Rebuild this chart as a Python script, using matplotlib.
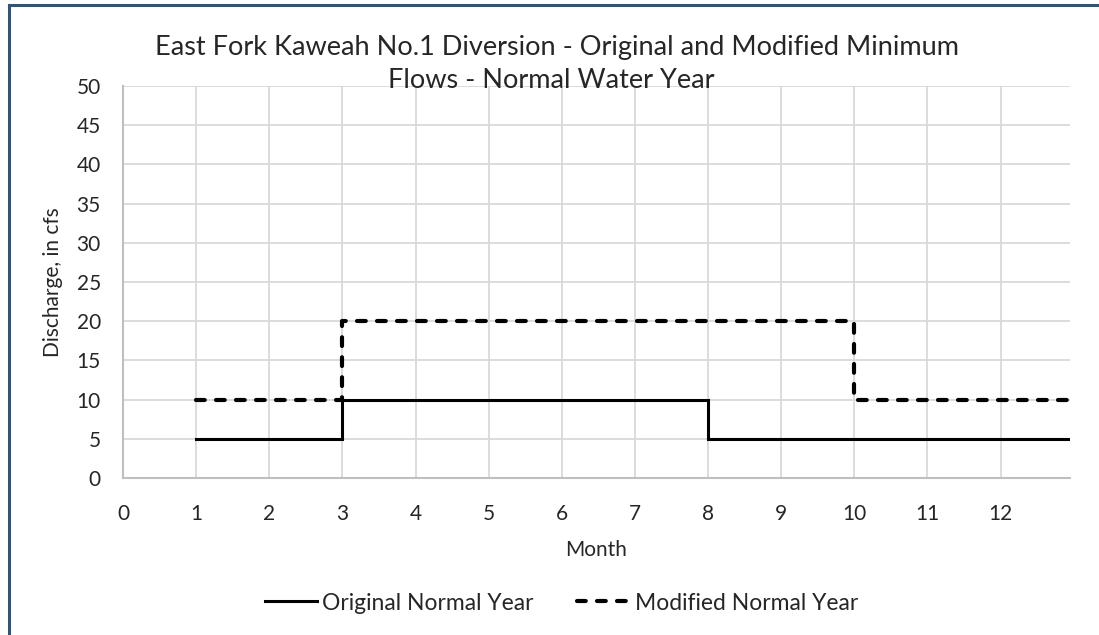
import matplotlib
matplotlib.use("Agg")
import matplotlib.pyplot as plt
from matplotlib.lines import Line2D

plt.rcParams['font.family'] = ['Lato', 'DejaVu Sans']

# step data (month, cfs)
months_orig = [1, 3, 3, 8, 8, 12.95]
flow_orig = [5, 5, 10, 10, 5, 5]
months_mod = [1, 3, 3, 10, 10, 12.95]
flow_mod = [10, 10, 20, 20, 10, 10]

x_ticks = list(range(0, 13))
y_ticks = list(range(0, 55, 5))

txt = '#262626'

fig = plt.figure(figsize=(10.99, 6.35), dpi=100)
ax = fig.add_axes([123/1099, 1-478/635, (1070-123)/1099, (478-86)/635])

ax.plot(months_orig, flow_orig, color='black', lw=2.2, solid_joinstyle='miter',
        label='Original Normal Year', zorder=3)
ax.plot(months_mod, flow_mod, color='black', lw=3.0, dashes=(2.1, 2.7),
        dash_capstyle='round', label='Modified Normal Year', zorder=3)

ax.set_xlim(0, 12.95)
ax.set_ylim(0, 50)
ax.set_xticks(x_ticks)
ax.set_yticks(y_ticks)
ax.grid(True, color='#d9d9d9', lw=1.3, zorder=0)
ax.set_axisbelow(True)
for s in ['top', 'right']:
    ax.spines[s].set_visible(False)
for s in ['left', 'bottom']:
    ax.spines[s].set_color('#bfbfbf')
    ax.spines[s].set_linewidth(1.5)
ax.tick_params(length=0, labelsize=15, colors=txt)
ax.tick_params(axis='x', pad=19)
ax.tick_params(axis='y', pad=16)

ax.set_xlabel('Month', fontsize=15, color=txt, labelpad=11)
ax.set_ylabel('Discharge, in cfs', fontsize=15, color=txt, labelpad=10)

fig.text(0.507, 1-47/635, 'East Fork Kaweah No.1 Diversion - Original and Modified Minimum',
         ha='center', va='center', fontsize=19.5, color=txt)
fig.text(0.502, 1-80/635, 'Flows - Normal Water Year',
         ha='center', va='center', fontsize=19.5, color=txt)

handles = [Line2D([], [], color='black', lw=2.2),
           Line2D([], [], color='black', lw=3.0, dashes=(2.1, 2.7), dash_capstyle='round')]
fig.legend(handles, ['Original Normal Year', 'Modified Normal Year'],
           loc='center', bbox_to_anchor=(0.511, 1-603/635), ncol=2, frameon=False,
           fontsize=16.5, handlelength=2.3, handletextpad=0.22, columnspacing=1.9,
           labelcolor=txt)

# chart frame (left and top edges visible)
fig.add_artist(Line2D([9/1099, 9/1099], [0, 1-5/635], color='#2e5578', lw=2.2,
                      transform=fig.transFigure))
fig.add_artist(Line2D([9/1099, 1], [1-5/635, 1-5/635], color='#2e5578', lw=2.2,
                      transform=fig.transFigure))

fig.savefig('out.png', dpi=100)
